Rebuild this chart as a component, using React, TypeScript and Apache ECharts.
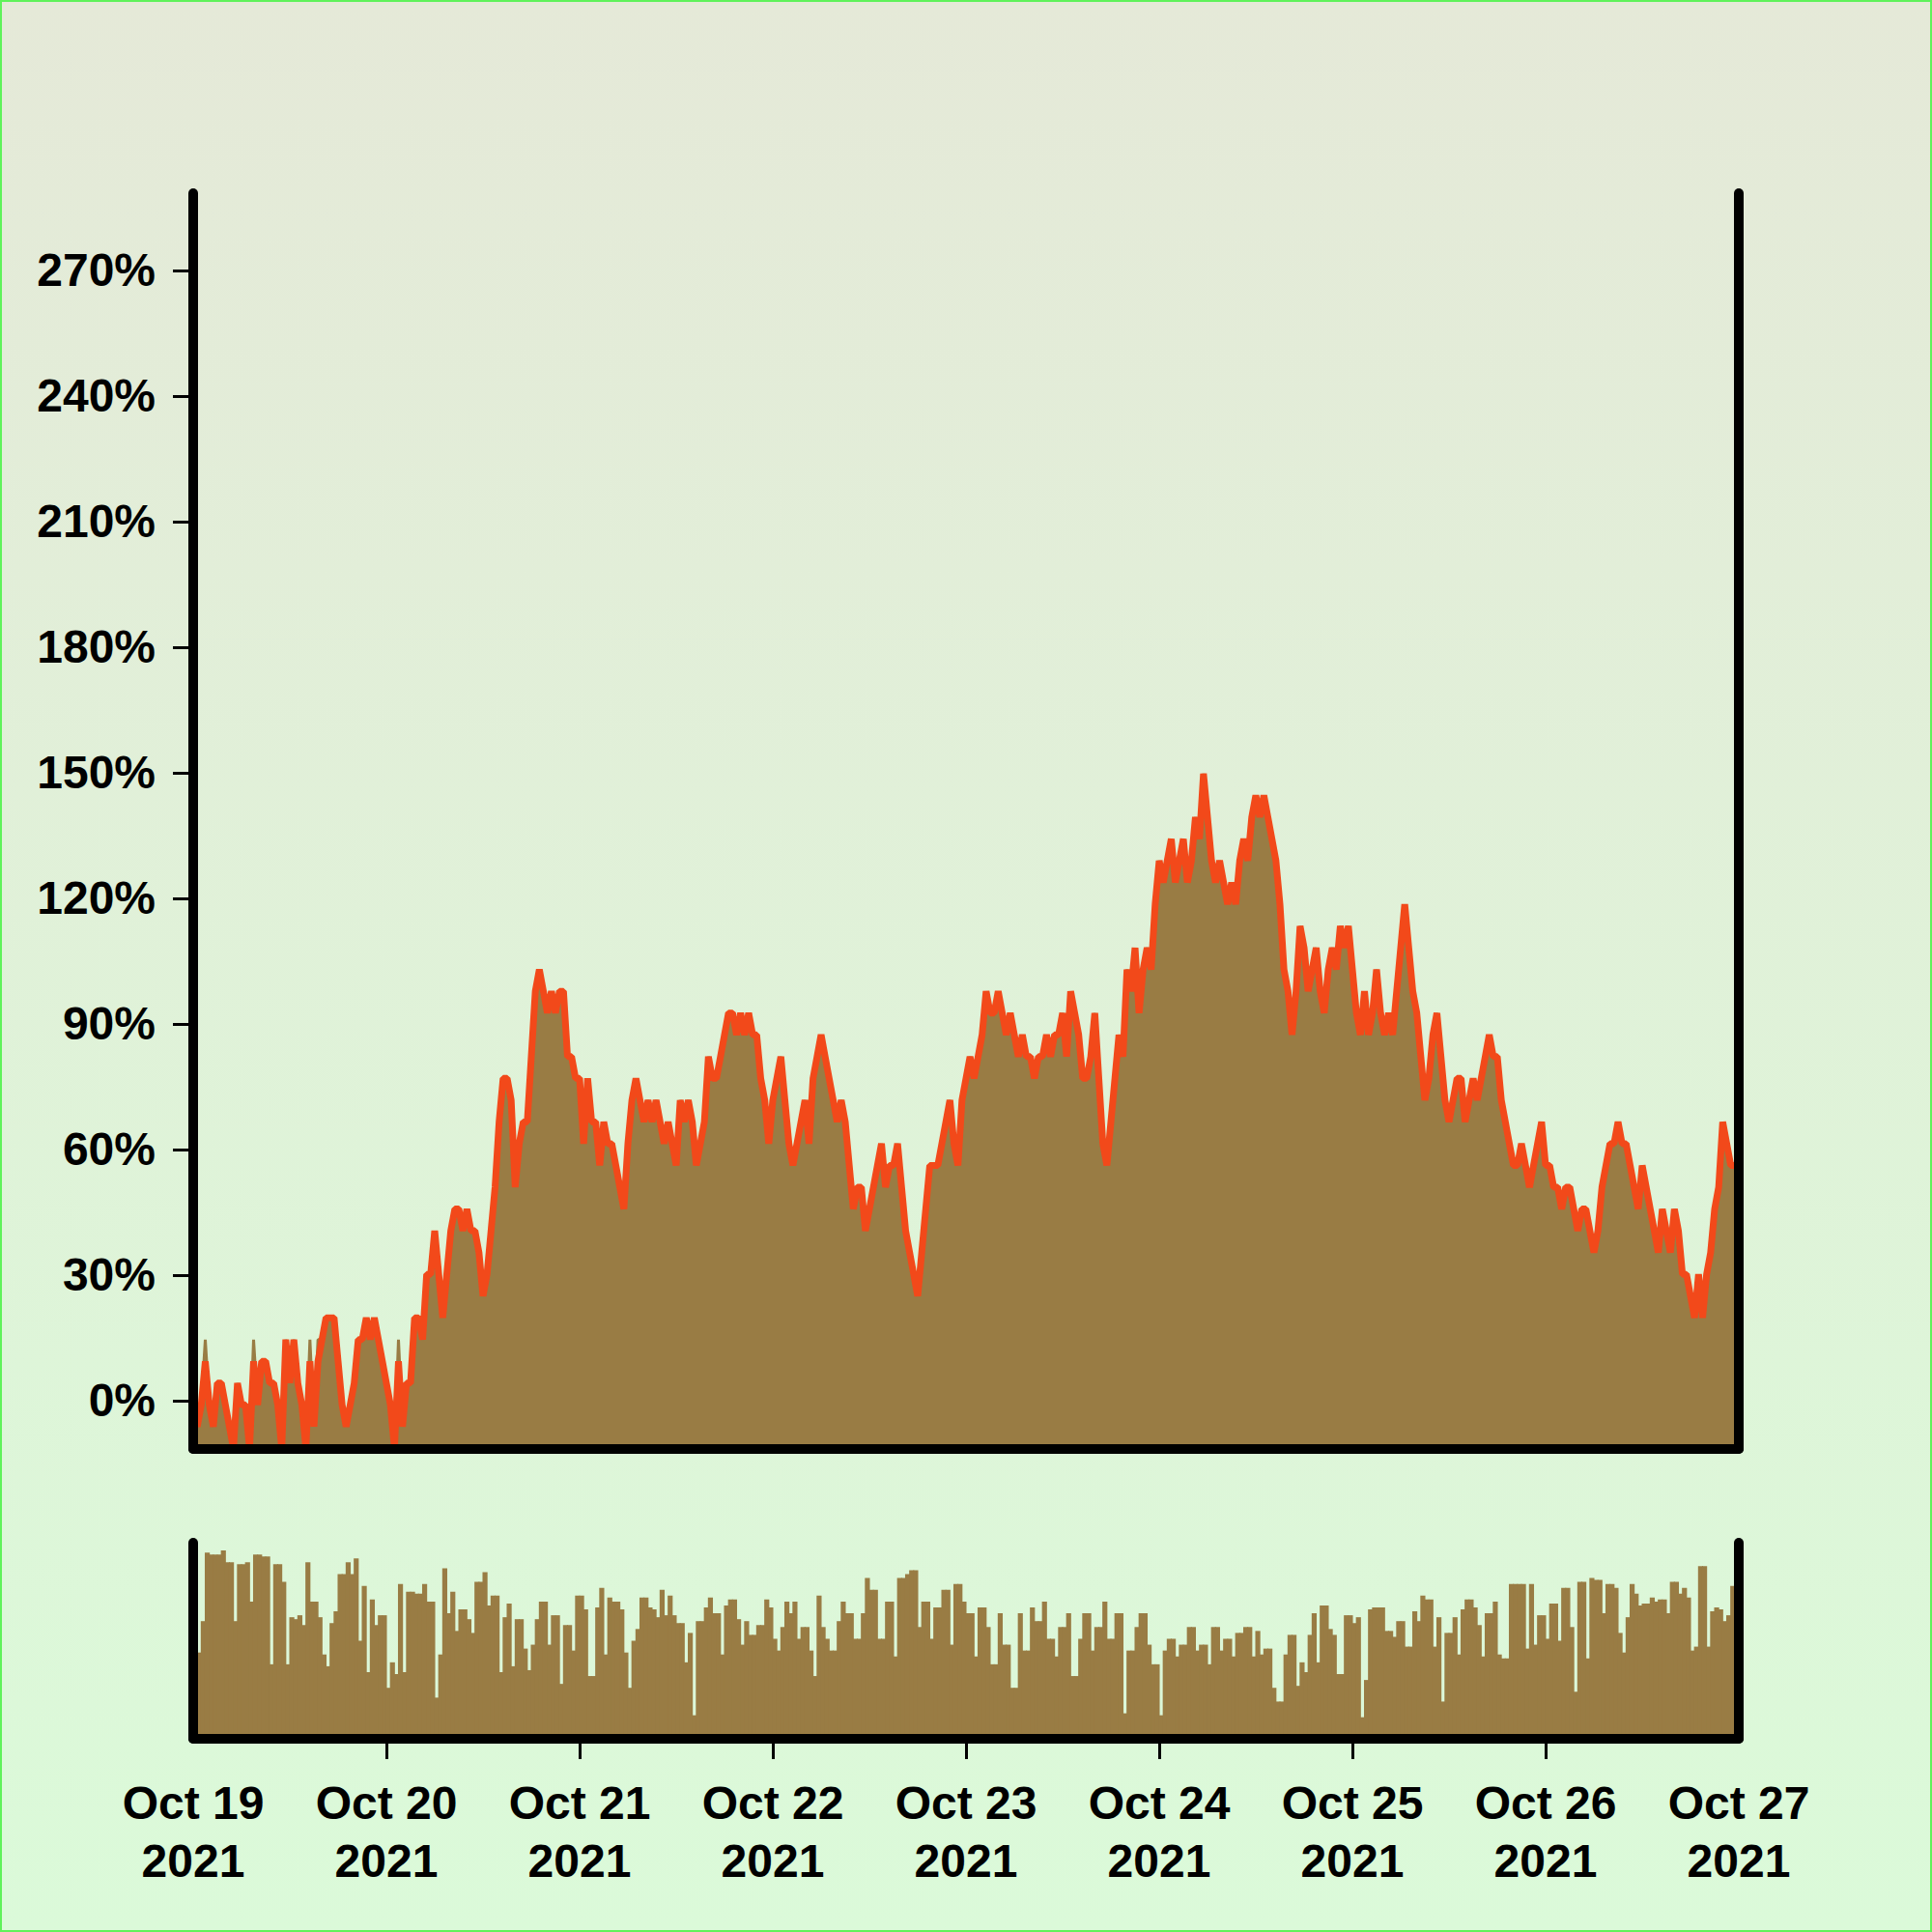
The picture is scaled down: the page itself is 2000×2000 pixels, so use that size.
import React, { useEffect, useRef } from 'react';
import * as echarts from 'echarts';

// ---- tick labels ----
const dayLabels = ['Oct 19', 'Oct 20', 'Oct 21', 'Oct 22', 'Oct 23', 'Oct 24', 'Oct 25', 'Oct 26', 'Oct 27'];
const yearLabel = '2021';
const yTickValues = [0, 30, 60, 90, 120, 150, 180, 210, 240, 270];
const xTickHours = [24, 48, 72, 96, 120, 144, 168];

// ---- time grid: one reading every half hour from Oct 19 00:00 (hours) ----
const STEP_HOURS = 0.5;

// ---- price levels (each level is one 5.2% step, level 0 = -1%) ----
const LEVEL_BASE_PCT = -1;
const LEVEL_STEP_PCT = 5.2;
const priceLevels = [
  // Oct 19
  0, -1, 0, 2, 0, -1, 1, 1, 0, -1, -2, 1,
  0, 0, -2, 2, 0, 2, 2, 1, 1, 0, -2, 3,
  1, 3, 1, 0, -2, 2, -1, 2, 3, 4, 4, 4,
  2, 0, -1, 0, 1, 3, 3, 4, 3, 4, 3, 2,
  // Oct 20
  1, 0, -2, 2, -1, 1, 1, 4, 4, 3, 6, 6,
  8, 6, 4, 6, 8, 9, 9, 8, 9, 8, 8, 7,
  5, 6, 8, 10, 13, 15, 15, 14, 10, 12, 13, 13,
  16, 19, 20, 19, 18, 19, 18, 19, 19, 16, 16, 15,
  // Oct 21
  15, 12, 15, 13, 13, 11, 13, 12, 12, 11, 10, 9,
  12, 14, 15, 14, 13, 14, 13, 14, 13, 12, 13, 12,
  11, 14, 13, 14, 13, 11, 12, 13, 16, 15, 15, 16,
  17, 18, 18, 17, 18, 17, 18, 17, 17, 15, 14, 12,
  // Oct 22
  14, 15, 16, 14, 12, 11, 12, 13, 14, 12, 15, 16,
  17, 16, 15, 14, 13, 14, 13, 11, 9, 10, 10, 8,
  9, 10, 11, 12, 10, 11, 11, 12, 10, 8, 7, 6,
  5, 7, 9, 11, 11, 11, 12, 13, 14, 12, 11, 14,
  // Oct 23
  15, 16, 15, 16, 17, 19, 18, 18, 19, 18, 17, 18,
  17, 16, 17, 16, 16, 15, 16, 16, 17, 16, 17, 17,
  18, 16, 19, 18, 17, 15, 15, 16, 18, 15, 12, 11,
  13, 15, 17, 16, 20, 19, 21, 18, 20, 21, 20, 23,
  // Oct 24
  25, 24, 25, 26, 24, 25, 26, 24, 25, 27, 26, 29,
  27, 25, 24, 25, 24, 23, 24, 23, 25, 26, 25, 27,
  28, 27, 28, 27, 26, 25, 23, 20, 19, 17, 19, 22,
  21, 19, 20, 21, 19, 18, 20, 21, 20, 22, 21, 22,
  // Oct 25
  20, 18, 17, 19, 17, 18, 20, 18, 17, 18, 17, 19,
  21, 23, 21, 19, 18, 16, 14, 15, 17, 18, 16, 14,
  13, 14, 15, 15, 13, 14, 15, 14, 15, 16, 17, 16,
  16, 14, 13, 12, 11, 11, 12, 11, 10, 11, 12, 13,
  // Oct 26
  11, 11, 10, 10, 9, 10, 10, 9, 8, 9, 9, 8,
  7, 8, 10, 11, 12, 12, 13, 12, 12, 11, 10, 9,
  11, 10, 9, 8, 7, 9, 8, 7, 9, 8, 6, 6,
  5, 4, 6, 4, 6, 7, 9, 10, 13, 12, 11, 11,
  // Oct 27 00:00
  11,
];

// brown (high) spikes that rise above the orange line: [reading index, level]
const highSpikeIndex = [3, 15, 29, 31, 51];
const highSpikeLevel = [3, 3, 3, 3, 3];

// ---- volume bars (0-100 of the lower panel), one per half hour ----
const volume = [
  44, 44, 60, 95, 94, 94, 94, 96, 90, 90, 60, 89,
  89, 90, 70, 94, 94, 93, 93, 38, 89, 89, 80, 38,
  62, 61, 63, 58, 90, 70, 70, 62, 43, 37, 59, 65,
  84, 84, 90, 84, 92, 50, 78, 34, 71, 58, 63, 63,
  26, 39, 33, 79, 34, 75, 75, 74, 74, 79, 70, 70,
  21, 43, 87, 64, 75, 55, 66, 66, 61, 54, 80, 80,
  85, 68, 73, 73, 34, 62, 69, 37, 61, 61, 46, 35,
  48, 61, 70, 70, 48, 63, 63, 28, 58, 58, 45, 73,
  73, 66, 32, 32, 67, 77, 43, 72, 70, 70, 66, 44,
  26, 50, 56, 72, 72, 67, 66, 62, 76, 63, 73, 63,
  59, 59, 39, 54, 12, 60, 60, 67, 72, 64, 64, 43,
  68, 71, 71, 61, 48, 60, 53, 53, 58, 58, 71, 67,
  51, 45, 57, 70, 64, 70, 51, 57, 57, 45, 32, 73,
  57, 51, 45, 45, 60, 70, 64, 64, 51, 51, 64, 82,
  76, 76, 51, 51, 70, 70, 42, 82, 82, 84, 86, 86,
  57, 70, 70, 51, 67, 67, 76, 76, 48, 79, 79, 70,
  64, 64, 42, 67, 67, 57, 38, 38, 64, 48, 48, 26,
  26, 64, 45, 45, 67, 60, 60, 70, 51, 51, 42, 57,
  57, 64, 32, 32, 51, 64, 64, 45, 57, 57, 70, 51,
  51, 64, 64, 13, 45, 45, 57, 64, 64, 48, 38, 38,
  12, 45, 51, 51, 42, 48, 48, 57, 57, 45, 48, 48,
  38, 57, 57, 45, 51, 51, 42, 54, 54, 57, 57, 42,
  55, 43, 46, 46, 26, 19, 19, 43, 53, 53, 27, 39,
  34, 53, 64, 39, 68, 68, 56, 53, 33, 33, 63, 63,
  59, 62, 11, 30, 66, 67, 67, 67, 55, 55, 52, 60,
  60, 47, 47, 65, 60, 73, 71, 71, 47, 62, 19, 54,
  54, 62, 43, 66, 71, 71, 67, 58, 42, 64, 64, 70,
  43, 41, 41, 79, 79, 79, 79, 46, 79, 48, 63, 63,
  51, 69, 69, 50, 77, 77, 57, 24, 80, 80, 41, 82,
  81, 81, 64, 79, 79, 77, 54, 44, 62, 79, 74, 68,
  69, 69, 72, 70, 71, 71, 64, 80, 80, 74, 77, 72,
  45, 47, 88, 88, 47, 65, 67, 66, 60, 63, 78, 78,
];

const BROWN = '#997c44';
const ORANGE = '#f2491a';
const BLACK = '#000000';
const FONT = 'Liberation Sans';

export default function App() {
  const ref = useRef<HTMLDivElement>(null);

  useEffect(() => {
    document.body.style.margin = '0';
    const chart = echarts.init(ref.current as HTMLDivElement, null, { renderer: 'svg' });

    const toPct = (n: number) => Math.round((LEVEL_BASE_PCT + LEVEL_STEP_PCT * n) * 100) / 100;
    const lineData = priceLevels.map((n, i) => [i * STEP_HOURS, toPct(n)]);
    const highLevels = priceLevels.slice();
    highSpikeIndex.forEach((idx, j) => { highLevels[idx] = highSpikeLevel[j]; });
    const highData = highLevels.map((n, i) => [i * STEP_HOURS, toPct(n)]);
    const volData = volume.map((v, i) => [i * STEP_HOURS + STEP_HOURS / 2, v]);

    const axisLineStyle = { color: BLACK, width: 10, cap: 'round' as const };
    const labelFont = { fontFamily: FONT, fontWeight: 'bold' as const, fontSize: 48, color: BLACK };

    const plainY = (gridIndex: number, position: 'left' | 'right', min: number, max: number) => ({
      type: 'value', gridIndex, position, min, max, z: 10,
      axisLine: { show: true, onZero: false, lineStyle: axisLineStyle },
      axisTick: { show: false }, axisLabel: { show: false }, splitLine: { show: false },
    });

    const option: any = {
      animation: false,
      backgroundColor: new echarts.graphic.LinearGradient(0, 0, 0, 1, [
        { offset: 0, color: '#e5e9d8' },
        { offset: 1, color: '#dbfad9' },
      ]),
      grid: [
        { left: 200, right: 200, top: 200, height: 1300 },
        { left: 200, right: 200, top: 1597, height: 203 },
      ],
      xAxis: [
        {
          type: 'value', gridIndex: 0, min: 0, max: 192, z: 10,
          axisLine: { show: true, onZero: false, lineStyle: axisLineStyle },
          axisTick: { show: false }, axisLabel: { show: false }, splitLine: { show: false },
        },
        {
          type: 'value', gridIndex: 1, min: 0, max: 192, interval: 24, z: 10,
          axisLine: { show: true, onZero: false, lineStyle: axisLineStyle },
          axisTick: { show: true, length: 21, lineStyle: { color: BLACK, width: 3 }, customValues: xTickHours },
          axisLabel: {
            ...labelFont, margin: 36, lineHeight: 60, showMinLabel: true, showMaxLabel: true,
            formatter: (v: number) => dayLabels[Math.round(v / 24)] + '\n' + yearLabel,
          },
          splitLine: { show: false },
        },
      ],
      yAxis: [
        {
          type: 'value', gridIndex: 0, position: 'left', min: -11.54, max: 288.46, z: 10,
          axisLine: { show: true, onZero: false, lineStyle: axisLineStyle },
          axisTick: { show: true, length: 21, lineStyle: { color: BLACK, width: 3 }, customValues: yTickValues },
          axisLabel: { ...labelFont, margin: 39, formatter: '{value}%', customValues: yTickValues },
          splitLine: { show: false },
        },
        plainY(0, 'right', -11.54, 288.46),
        plainY(1, 'left', 0, 100),
        plainY(1, 'right', 0, 100),
      ],
      series: [
        {
          type: 'line', xAxisIndex: 0, yAxisIndex: 0, data: highData, symbol: 'none', z: 2,
          lineStyle: { color: BROWN, width: 3 },
          areaStyle: { color: BROWN, opacity: 1, origin: 'start' },
        },
        {
          type: 'line', xAxisIndex: 0, yAxisIndex: 0, data: lineData, symbol: 'none', z: 3,
          lineStyle: { color: ORANGE, width: 7 },
        },
        {
          type: 'bar', xAxisIndex: 1, yAxisIndex: 2, data: volData, barWidth: 5.2, barGap: '-100%', z: 2,
          itemStyle: { color: BROWN },
        },
      ],
      graphic: [
        {
          type: 'rect', z: 100, silent: true,
          shape: { x: 1, y: 1, width: 1998, height: 1998 },
          style: { fill: 'none', stroke: '#5ff25a', lineWidth: 2 },
        },
      ],
    };

    chart.setOption(option);
    return () => chart.dispose();
  }, []);

  return <div ref={ref} style={{ width: 2000, height: 2000 }} />;
}
